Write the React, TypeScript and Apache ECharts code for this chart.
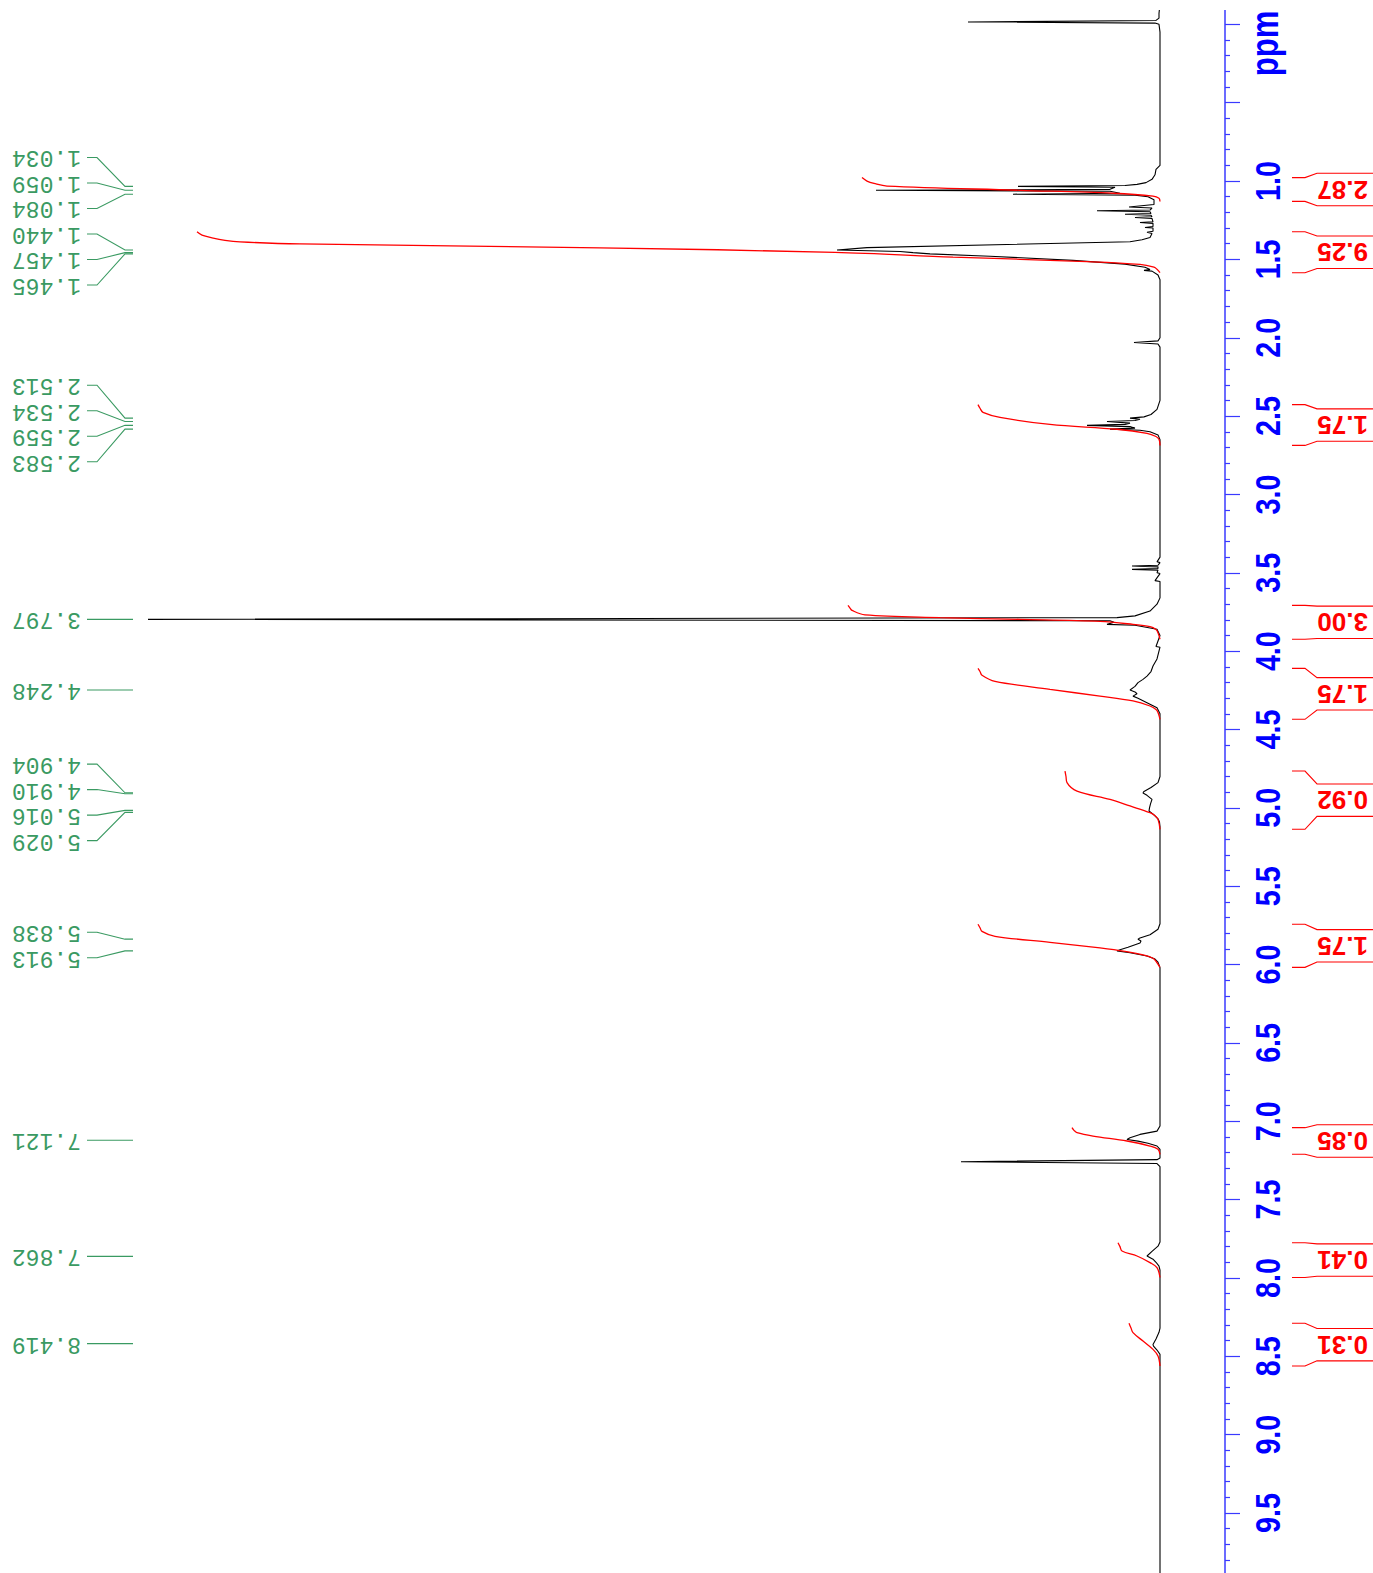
import { useEffect, useRef } from 'react';
import * as echarts from 'echarts';

// ---------------- data (ppm, intensity) ----------------
const SPECTRUM: [number, number][] = [
  [-0.1, 0.05], [-0.07, 0.1], [-0.04, 0.1], [-0.025, 0.4], [-0.015, 19.2], [-0.008, 0.5], [0.0, 0.1], [0.05, 0],
  [0.9, 0], [0.925, 0.4], [0.96, 0.5], [0.989, 0.8], [1.01, 1.4], [1.021, 2.3], [1.028, 3.5],
  [1.034, 14.2], [1.04, 4.5], [1.053, 5.0], [1.059, 28.4], [1.065, 5.0], [1.078, 4.0], [1.084, 14.7], [1.09, 2.5],
  [1.1, 1.2], [1.12, 0.6], [1.15, 0.6], [1.166, 3.1], [1.172, 0.8], [1.185, 1.0], [1.19, 6.3], [1.196, 1.0],
  [1.207, 0.9], [1.212, 3.5], [1.218, 0.9], [1.228, 0.8], [1.233, 2.5], [1.239, 0.8], [1.26, 0.7], [1.265, 2.0],
  [1.27, 0.7], [1.29, 0.7], [1.296, 1.5], [1.3, 0.7], [1.32, 0.7], [1.327, 1.3], [1.335, 0.8], [1.36, 1.0],
  [1.375, 1.8], [1.387, 3.0], [1.425, 29.3], [1.44, 32.3], [1.45, 26.0], [1.457, 24.7], [1.465, 23.0],
  [1.48, 17.0], [1.506, 8.7], [1.53, 3.5], [1.55, 1.5], [1.565, 1.0], [1.57, 1.6], [1.575, 0.8], [1.6, 0.2], [1.63, 0],
  [2.0, 0], [2.02, 0.2], [2.03, 2.6], [2.04, 0.2], [2.06, 0],
  [2.4, 0], [2.457, 0.3], [2.49, 0.9], [2.505, 1.6], [2.513, 3.0], [2.52, 2.0], [2.528, 2.5], [2.534, 5.3],
  [2.545, 3.0], [2.553, 3.5], [2.559, 7.3], [2.567, 3.0], [2.577, 2.5], [2.583, 5.0], [2.59, 2.0], [2.6, 1.0],
  [2.62, 0.2], [2.65, 0],
  [3.4, 0], [3.43, 0.3], [3.435, 0], [3.452, 0.2], [3.457, 2.8], [3.462, 0.2], [3.473, 0.2], [3.478, 2.8],
  [3.483, 0.2], [3.5, 0.3], [3.505, 0], [3.55, 0.5], [3.555, 0], [3.66, 0], [3.7, 0.3], [3.744, 1.0],
  [3.775, 2.5], [3.786, 4.3], [3.797, 101.2], [3.806, 5.0], [3.815, 4.6], [3.829, 5.3], [3.835, 2.5],
  [3.86, 0.3], [3.9, 0],
  [3.97, 0.4], [3.975, 0], [4.05, 0.3], [4.095, 0.7], [4.13, 0.9], [4.159, 1.3], [4.18, 1.7], [4.201, 2.2],
  [4.225, 2.5], [4.248, 3.0], [4.26, 2.5], [4.272, 2.3], [4.287, 2.7], [4.3, 2.2], [4.329, 1.3], [4.345, 0.8],
  [4.361, 0.3], [4.4, 0],
  [4.8, 0], [4.839, 0.2], [4.87, 0.9], [4.895, 1.6], [4.905, 1.7], [4.92, 1.3], [4.946, 0.8], [4.975, 0.95],
  [5.0, 1.05], [5.02, 1.1], [5.045, 0.6], [5.07, 0.2], [5.09, 0.05], [5.12, 0],
  [5.74, 0], [5.775, 0.2], [5.81, 1.0], [5.83, 2.0], [5.839, 2.2], [5.85, 1.9], [5.862, 2.0], [5.89, 3.2],
  [5.905, 4.0], [5.913, 4.3], [5.925, 3.0], [5.945, 1.3], [5.965, 0.5], [5.985, 0.2], [6.02, 0],
  [7.03, 0], [7.063, 0.3], [7.084, 2.0], [7.105, 3.0], [7.116, 3.3], [7.127, 2.2], [7.14, 1.2], [7.158, 0.3],
  [7.18, 0], [7.235, 0], [7.245, 0.3], [7.258, 19.9], [7.27, 0.3], [7.29, 0],
  [7.77, 0], [7.797, 0.2], [7.83, 0.8], [7.86, 1.3], [7.88, 0.7], [7.9, 0.4], [7.924, 0.1], [7.95, 0],
  [8.32, 0], [8.347, 0.1], [8.39, 0.4], [8.425, 0.7], [8.435, 0.65], [8.46, 0.3], [8.488, 0], [9.9, 0],
];

const PEAK_PPM = [
  1.034, 1.059, 1.084, 1.44, 1.457, 1.465, 2.513, 2.534, 2.559, 2.583, 3.797, 4.248,
  4.904, 4.91, 5.016, 5.029, 5.838, 5.913, 7.121, 7.862, 8.419,
];

const TICK_LABELS = [1.0, 1.5, 2.0, 2.5, 3.0, 3.5, 4.0, 4.5, 5.0, 5.5, 6.0, 6.5, 7.0, 7.5, 8.0, 8.5, 9.0, 9.5];

const INTEGRAL_VALUES = ['2.87', '9.25', '1.75', '3.00', '1.75', '0.92', '1.75', '0.85', '0.41', '0.31'];

// integral curves: (ppm, integral height)
const INT_A: [number, number][] = [[0.978, 29.8], [1.0, 29.3], [1.015, 28.6], [1.032, 27.3], [1.059, 14.0], [1.078, 4.7], [1.096, 0.7], [1.11, 0.1], [1.13, 0]];
const INT_B: [number, number][] = [[1.324, 96.3], [1.345, 95.8], [1.362, 94.8], [1.378, 93.5], [1.388, 92.0], [1.401, 86.0], [1.426, 56.0], [1.455, 32.5], [1.485, 20.7], [1.514, 7.3], [1.532, 2.0], [1.55, 0.6], [1.563, 0.3], [1.585, 0]];
const INT_C: [number, number][] = [[2.427, 18.2], [2.45, 18.0], [2.476, 17.7], [2.508, 16.0], [2.553, 11.0], [2.584, 4.3], [2.61, 1.3], [2.63, 0.4], [2.648, 0.1], [2.687, 0]];
const INT_D: [number, number][] = [[3.708, 31.2], [3.725, 31.0], [3.74, 30.8], [3.769, 29.5], [3.786, 22.0], [3.797, 14.0], [3.81, 6.0], [3.829, 2.7], [3.844, 1.0], [3.862, 0.4], [3.882, 0.2], [3.924, 0]];
const INT_E: [number, number][] = [[4.11, 18.2], [4.13, 18.0], [4.154, 17.8], [4.193, 16.5], [4.244, 11.0], [4.287, 6.0], [4.318, 2.7], [4.35, 1.0], [4.372, 0.4], [4.392, 0.2], [4.435, 0]];
const INT_F: [number, number][] = [[4.765, 9.5], [4.8, 9.4], [4.839, 9.3], [4.893, 8.3], [4.946, 5.0], [4.988, 3.0], [5.031, 1.0], [5.05, 0.5], [5.073, 0.2], [5.137, 0]];
const INT_G: [number, number][] = [[5.743, 18.2], [5.765, 18.0], [5.788, 17.8], [5.82, 16.5], [5.858, 11.0], [5.894, 6.0], [5.916, 3.5], [5.941, 1.5], [5.96, 0.7], [5.979, 0.4], [6.018, 0]];
const INT_H: [number, number][] = [[7.041, 8.8], [7.058, 8.6], [7.073, 8.3], [7.095, 6.7], [7.126, 3.3], [7.158, 1.0], [7.179, 0.2], [7.211, 0]];
const INT_I: [number, number][] = [[7.775, 4.2], [7.8, 4.0], [7.828, 3.8], [7.86, 2.3], [7.902, 1.0], [7.934, 0.3], [7.997, 0]];
const INT_J: [number, number][] = [[8.289, 3.1], [8.32, 2.9], [8.349, 2.7], [8.403, 1.7], [8.456, 0.7], [8.498, 0.2], [8.562, 0]];
const INTEGRAL_CURVES = [INT_A, INT_B, INT_C, INT_D, INT_E, INT_F, INT_G, INT_H, INT_I, INT_J];

// ---------------- layout / style ----------------
const PPM_MIN = -0.5;
const PPM_MAX = 10;
const PX_PER_PPM = 156.7;
const AXIS_X = 1225;
const X_MIN = -6.5;
const X_MAX = 116.0;
const GRID_H = (PPM_MAX - PPM_MIN) * PX_PER_PPM;
const CHART_SHIFT = 54.35; // chart y = page y + CHART_SHIFT
const LABEL_GAP_PX = 25.5;

const BLUE_LINE = '#3a3aff';
const BLUE_TEXT = '#0000ff';
const RED = '#ff0000';
const GREEN = '#3a9a62';
const SANS = '"Liberation Sans", Arial, Helvetica, sans-serif';
const NARROW = 0.82;

function layoutLabels(peaks: number[], gap: number): number[] {
  const sorted = peaks.map((p, i) => ({ p, i })).sort((a, b) => a.p - b.p);
  const clusters: { items: { p: number; i: number }[]; start: number }[] = [];
  const mean = (c: { items: { p: number }[] }) => c.items.reduce((s, v) => s + v.p, 0) / c.items.length;
  for (const it of sorted) {
    clusters.push({ items: [it], start: it.p });
    while (clusters.length > 1) {
      const c = clusters[clusters.length - 1];
      const prev = clusters[clusters.length - 2];
      c.start = mean(c) - ((c.items.length - 1) / 2) * gap;
      const prevEnd = prev.start + (prev.items.length - 1) * gap;
      if (c.start < prevEnd + gap - 1e-9) {
        prev.items.push(...c.items);
        clusters.pop();
        prev.start = mean(prev) - ((prev.items.length - 1) / 2) * gap;
      } else break;
    }
  }
  const out = new Array(peaks.length).fill(0);
  for (const c of clusters) c.items.forEach((it, k) => { out[it.i] = c.start + k * gap; });
  return out;
}

function buildOption() {
  const labelPos = layoutLabels(PEAK_PPM, LABEL_GAP_PX / PX_PER_PPM);

  const integralSeries = INTEGRAL_CURVES.map((c) => ({
    type: 'line',
    data: c.map(([p, v]) => [v, p]),
    smooth: 0.35,
    symbol: 'none',
    showSymbol: false,
    silent: true,
    lineStyle: { color: RED, width: 1.3 },
    z: 4,
  }));

  return {
    animation: false,
    grid: { left: 0, top: 0, width: AXIS_X, height: GRID_H, containLabel: false },
    xAxis: {
      type: 'value', inverse: true, min: X_MIN, max: X_MAX, show: false,
      splitLine: { show: false },
    },
    yAxis: {
      type: 'value', position: 'right', inverse: true, min: PPM_MIN, max: PPM_MAX, interval: 0.5,
      axisLine: { show: true, onZero: false, lineStyle: { color: BLUE_LINE, width: 1.5 } },
      axisTick: { show: true, inside: false, length: 15, lineStyle: { color: BLUE_LINE, width: 1.2 } },
      minorTick: { show: true, splitNumber: 5, length: 5, lineStyle: { color: BLUE_LINE, width: 1.2 } },
      axisLabel: { show: false },
      splitLine: { show: false },
      minorSplitLine: { show: false },
    },
    graphic: [
      {
        type: 'text', x: 1265, y: 43 + CHART_SHIFT, rotation: Math.PI / 2, scaleX: NARROW,
        style: {
          text: 'ppm', fill: BLUE_TEXT, fontSize: 38, fontWeight: 'bold', fontFamily: SANS,
          align: 'center', verticalAlign: 'middle', textAlign: 'center', textVerticalAlign: 'middle',
        },
      },
    ],
    series: [
      {
        type: 'line',
        data: SPECTRUM.map(([p, v]) => [v, p]),
        symbol: 'none', showSymbol: false, silent: true,
        lineStyle: { color: '#000000', width: 1.1 },
        z: 3,
      },
      ...integralSeries,
      {
        // ppm tick labels (narrow bold, rotated)
        type: 'custom',
        coordinateSystem: 'cartesian2d',
        clip: false,
        silent: true,
        data: TICK_LABELS.map((v) => [0, v]),
        renderItem: (params: any, api: any) => {
          const y = api.coord([0, api.value(1)])[1];
          return {
            type: 'text', x: 1267.5, y, rotation: Math.PI / 2, scaleX: NARROW,
            style: {
              text: TICK_LABELS[params.dataIndex].toFixed(1), fill: BLUE_TEXT,
              fontSize: 35, fontWeight: 'bold', fontFamily: SANS,
              align: 'center', verticalAlign: 'middle', textAlign: 'center', textVerticalAlign: 'middle',
            },
          };
        },
        z: 5,
      },
      {
        type: 'custom',
        coordinateSystem: 'cartesian2d',
        clip: false,
        silent: true,
        data: PEAK_PPM.map((p, i) => [p, labelPos[i]]),
        renderItem: (params: any, api: any) => {
          const yp = api.coord([0, api.value(0)])[1];
          const yl = api.coord([0, api.value(1)])[1];
          return {
            type: 'group',
            children: [
              {
                type: 'polyline',
                shape: { points: [[87, yl], [97, yl], [125, yp], [133, yp]] },
                style: { stroke: GREEN, lineWidth: 1.1, fill: null },
              },
              {
                type: 'text', x: 81, y: yl, rotation: Math.PI,
                style: {
                  text: PEAK_PPM[params.dataIndex].toFixed(3), fill: GREEN,
                  fontSize: 23, fontFamily: '"Liberation Mono", "DejaVu Sans Mono", monospace',
                  align: 'left', verticalAlign: 'middle', textAlign: 'left', textVerticalAlign: 'middle',
                },
              },
            ],
          };
        },
        z: 5,
      },
      {
        type: 'custom',
        coordinateSystem: 'cartesian2d',
        clip: false,
        silent: true,
        data: INTEGRAL_CURVES.map((c) => [0, c[0][0], c[c.length - 1][0]]),
        renderItem: (params: any, api: any) => {
          const y1 = api.coord([0, api.value(1)])[1];
          const y2 = api.coord([0, api.value(2)])[1];
          const yc = (y1 + y2) / 2;
          const half = 16.2;
          const st = { stroke: RED, lineWidth: 1.1, fill: null };
          return {
            type: 'group',
            children: [
              { type: 'polyline', shape: { points: [[1292, y1], [1305, y1], [1317, yc - half], [1373, yc - half]] }, style: st },
              { type: 'polyline', shape: { points: [[1292, y2], [1305, y2], [1317, yc + half], [1373, yc + half]] }, style: st },
              {
                type: 'text', x: 1368, y: yc, rotation: Math.PI,
                style: {
                  text: INTEGRAL_VALUES[params.dataIndex], fill: RED,
                  fontSize: 26, fontWeight: 'bold', fontFamily: SANS,
                  align: 'left', verticalAlign: 'middle', textAlign: 'left', textVerticalAlign: 'middle',
                },
              },
            ],
          };
        },
        z: 5,
      },
    ],
  };
}

export default function App() {
  const ref = useRef<HTMLDivElement>(null);
  useEffect(() => {
    if (!ref.current) return;
    const chart = echarts.init(ref.current, undefined, { renderer: 'svg' });
    chart.setOption(buildOption() as any);
    return () => chart.dispose();
  }, []);
  return (
    <div style={{ position: 'absolute', left: 0, top: 10, width: 1373, height: 1563, overflow: 'hidden', background: '#ffffff' }}>
      <div ref={ref} style={{ position: 'absolute', left: 0, top: -(CHART_SHIFT + 10), width: 1373, height: 1660 }} />
    </div>
  );
}
